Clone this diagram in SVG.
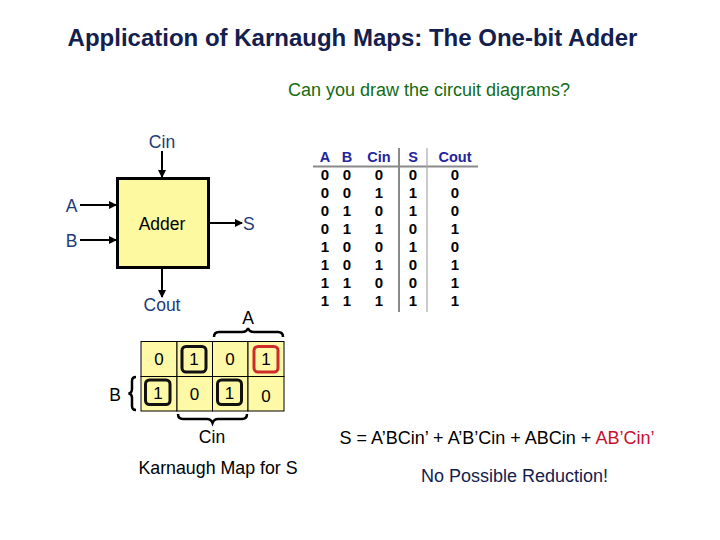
<svg xmlns="http://www.w3.org/2000/svg" width="720" height="540" viewBox="0 0 720 540">
<style>
text{font-family:"Liberation Sans",Arial,sans-serif}
.title{font-size:24px;font-weight:bold;fill:#13204e}
.green{font-size:18px;fill:#136b13}
.lbl{font-size:17.5px;fill:#1e3a78}
.blk{font-size:17.5px;fill:#000}
.dig{font-size:17px;fill:#000}
.th{font-size:14.5px;font-weight:bold;fill:#2424a0}
.td{font-size:15px;font-weight:bold;fill:#000}
.wire{stroke:#000;stroke-width:2;fill:none}
.cell{fill:#fdf9a6;stroke:#000;stroke-width:1}
.loop{fill:none;stroke:#111;stroke-width:3}
.brace{fill:none;stroke:#000;stroke-width:2.5}
</style>
<defs>
<marker id="arr" markerWidth="8" markerHeight="8" refX="7" refY="4" orient="auto" markerUnits="userSpaceOnUse">
<path d="M0,0 L8,4 L0,8 Z" fill="#000"/>
</marker>
</defs>
<rect width="720" height="540" fill="#fff"/>
<text class="title" x="352.5" y="46" text-anchor="middle">Application of Karnaugh Maps: The One-bit Adder</text>
<text class="green" x="429" y="96" text-anchor="middle">Can you draw the circuit diagrams?</text>

<g id="adder">
<rect x="117.5" y="178.5" width="91" height="89" fill="#fdf9a0" stroke="#000" stroke-width="3"/>
<text class="blk" x="162" y="230" text-anchor="middle">Adder</text>
</g>
<g id="lbl-cin"><text class="lbl" x="162" y="148" text-anchor="middle">Cin</text></g>
<g id="lbl-a"><text class="lbl" x="71.5" y="212" text-anchor="middle">A</text></g>
<g id="lbl-b"><text class="lbl" x="71.5" y="246.5" text-anchor="middle">B</text></g>
<g id="lbl-s"><text class="lbl" x="243" y="230">S</text></g>
<g id="lbl-cout"><text class="lbl" x="162" y="311" text-anchor="middle">Cout</text></g>

<g id="connectors">
<line class="wire" x1="162" y1="151" x2="162" y2="177" marker-end="url(#arr)"/>
<line class="wire" x1="80" y1="205" x2="116" y2="205" marker-end="url(#arr)"/>
<line class="wire" x1="80" y1="240" x2="116" y2="240" marker-end="url(#arr)"/>
<line class="wire" x1="210" y1="223" x2="242" y2="223" marker-end="url(#arr)"/>
<line class="wire" x1="162" y1="269" x2="162" y2="297" marker-end="url(#arr)"/>
</g>

<g id="truth-table">
<line x1="313" y1="166.5" x2="478" y2="166.5" stroke="#8a8a8a" stroke-width="2"/>
<line x1="399" y1="148" x2="399" y2="312" stroke="#8a8a8a" stroke-width="2"/>
<line x1="427" y1="148" x2="427" y2="312" stroke="#a8a8a8" stroke-width="1.2"/>
<g text-anchor="middle">
<text class="th" x="325" y="162">A</text>
<text class="th" x="347" y="162">B</text>
<text class="th" x="379" y="162">Cin</text>
<text class="th" x="413" y="162">S</text>
<text class="th" x="455" y="162">Cout</text>
</g>
<g class="rows" text-anchor="middle">
<text class="td" x="325" y="180">0</text><text class="td" x="347" y="180">0</text><text class="td" x="379" y="180">0</text><text class="td" x="413" y="180">0</text><text class="td" x="455" y="180">0</text>
<text class="td" x="325" y="198">0</text><text class="td" x="347" y="198">0</text><text class="td" x="379" y="198">1</text><text class="td" x="413" y="198">1</text><text class="td" x="455" y="198">0</text>
<text class="td" x="325" y="216">0</text><text class="td" x="347" y="216">1</text><text class="td" x="379" y="216">0</text><text class="td" x="413" y="216">1</text><text class="td" x="455" y="216">0</text>
<text class="td" x="325" y="234">0</text><text class="td" x="347" y="234">1</text><text class="td" x="379" y="234">1</text><text class="td" x="413" y="234">0</text><text class="td" x="455" y="234">1</text>
<text class="td" x="325" y="252">1</text><text class="td" x="347" y="252">0</text><text class="td" x="379" y="252">0</text><text class="td" x="413" y="252">1</text><text class="td" x="455" y="252">0</text>
<text class="td" x="325" y="270">1</text><text class="td" x="347" y="270">0</text><text class="td" x="379" y="270">1</text><text class="td" x="413" y="270">0</text><text class="td" x="455" y="270">1</text>
<text class="td" x="325" y="288">1</text><text class="td" x="347" y="288">1</text><text class="td" x="379" y="288">0</text><text class="td" x="413" y="288">0</text><text class="td" x="455" y="288">1</text>
<text class="td" x="325" y="306">1</text><text class="td" x="347" y="306">1</text><text class="td" x="379" y="306">1</text><text class="td" x="413" y="306">1</text><text class="td" x="455" y="306">1</text>
</g>
</g>

<g id="kmap">
<rect class="cell" x="141" y="341.5" width="36" height="35"/>
<rect class="cell" x="177" y="341.5" width="35.5" height="35"/>
<rect class="cell" x="212.5" y="341.5" width="35.5" height="35"/>
<rect class="cell" x="248" y="341.5" width="36" height="35"/>
<rect class="cell" x="141" y="376.5" width="36" height="34.5"/>
<rect class="cell" x="177" y="376.5" width="35.5" height="34.5"/>
<rect class="cell" x="212.5" y="376.5" width="35.5" height="34.5"/>
<rect class="cell" x="248" y="376.5" width="36" height="34.5"/>
<rect class="loop" x="182" y="346.5" width="24" height="25.5" rx="4"/>
<rect class="loop" x="254" y="346.5" width="24" height="25.5" rx="4" style="stroke:#d02a2a"/>
<rect class="loop" x="145.5" y="380" width="24.5" height="24.5" rx="4"/>
<rect class="loop" x="217.5" y="380" width="24" height="24.5" rx="4"/>
<g text-anchor="middle">
<text class="dig" x="159" y="365">0</text>
<text class="dig" x="194" y="365">1</text>
<text class="dig" x="230" y="365">0</text>
<text class="dig" x="266" y="365">1</text>
<text class="dig" x="158" y="399">1</text>
<text class="dig" x="194.5" y="400">0</text>
<text class="dig" x="229.5" y="399">1</text>
<text class="dig" x="266" y="402">0</text>
</g>
<path class="brace" d="M214,337 Q214,332 219,332 L242,332 Q247,332 248,328 Q249,332 254,332 L278,332 Q283,332 283,337"/>
<path class="brace" d="M136,377 Q132,377 132,381 L132,389 Q132,393 128.5,393.5 Q132,394 132,398 L132,406 Q132,410 136,410"/>
<path class="brace" d="M178,414 Q178,419 183,419 L207,419 Q211,419 212.5,423 Q214,419 218,419 L242,419 Q247,419 247,414"/>
<text class="blk" x="248" y="324" text-anchor="middle">A</text>
<text class="blk" x="115" y="401" text-anchor="middle">B</text>
<text class="blk" x="212" y="443" text-anchor="middle">Cin</text>
<text class="blk" x="218" y="474" text-anchor="middle" style="font-size:17.8px">Karnaugh Map for S</text>
</g>

<text class="blk" x="497" y="444" text-anchor="middle" style="font-size:18px">S = A’BCin’ + A’B’Cin + ABCin + <tspan fill="#c8102e">AB’Cin’</tspan></text>
<text x="514.5" y="482" text-anchor="middle" style="font-size:18px;fill:#13204e">No Possible Reduction!</text>
</svg>
